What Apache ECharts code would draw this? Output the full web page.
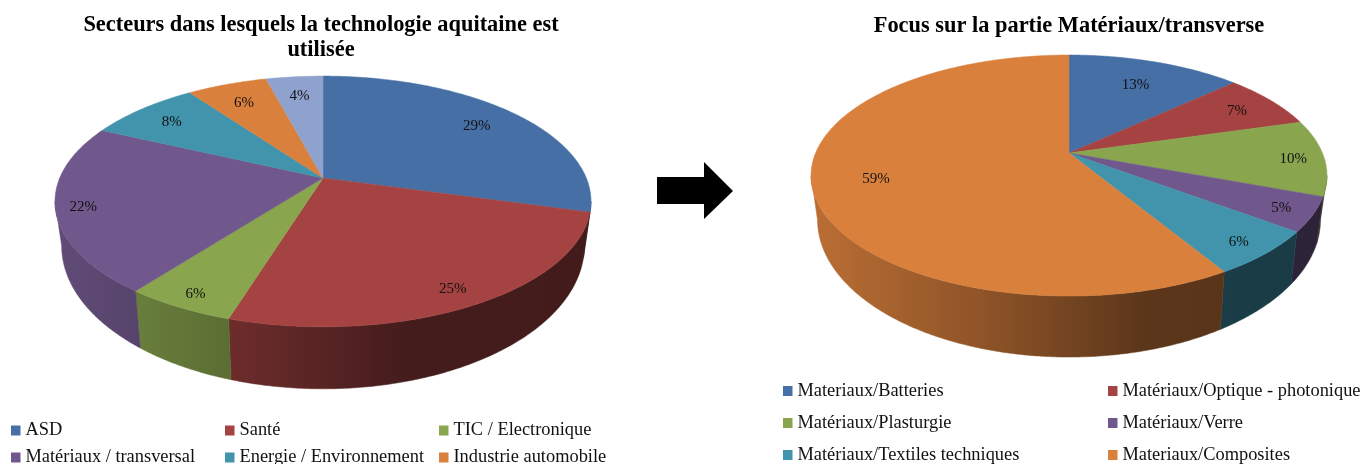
<!DOCTYPE html>
<html><head><meta charset="utf-8">
<script src="https://cdn.jsdelivr.net/npm/echarts@6/dist/echarts.min.js"></script>
<style>html,body{margin:0;background:#fff}#c{width:1363px;height:464px}</style></head>
<body><div id="c"></div>
<script>
const leftCategories = ['ASD','Santé','TIC / Electronique','Matériaux / transversal','Energie / Environnement','Industrie automobile','Autres'];
const leftValues = [29.3,25.4,5.6,21.6,8.1,5.8,4.1];
const leftColors = ['#4670a5','#a54342','#89a54e','#71588c','#4194ac','#d9803d','#8fa2cd'];
const leftLabelRadius = [0.8,0.88,0.9,0.9,0.82,0.8,0.8];

const rightCategories = ['Materiaux/Batteries','Matériaux/Optique - photonique','Matériaux/Plasturgie','Matériaux/Verre','Matériaux/Textiles techniques','Materiaux/Composites'];
const rightValues = [13.1,7.4,10.2,4.6,6.1,58.6];
const rightColors = ['#4670a5','#a54342','#89a54e','#71588c','#4194ac','#d9803d'];
const rightLabelRadius = [0.74,0.82,0.88,0.88,0.88,0.76];

const titleLeft = 'Secteurs dans lesquels la technologie aquitaine est\nutilisée';
const titleRight = 'Focus sur la partie Matériaux/transverse';

const FONT = '"Liberation Serif","Times New Roman",serif';
const K = 0.187, SIL = Math.asin(K);           // perspective strength, silhouette angle
const GROW = 0.14;                             // wall depth shrinks towards the back
const leftPie  = {cx:323,  cy:178, A:263.3, B:121,   rx:268, depth:62, s:0.975};
const rightPie = {cx:1069, cy:153, A:253.4, B:116.3, rx:258, depth:61, s:0.975};

function project(p, ang, r){
  const u = Math.sin(ang)*r, v = Math.cos(ang)*r, d = 1 + K*v;
  return [p.cx + p.A*u/d, p.cy - p.B*v/d];
}
function shade(hex, f){
  const n = parseInt(hex.slice(1),16);
  const c = [n>>16&255, n>>8&255, n&255].map(x=>Math.round(x*f));
  return 'rgb('+c.join(',')+')';
}
function wallGradient(p, color){
  return {type:'linear', global:true, x:p.cx-p.rx, y:0, x2:p.cx+p.rx, y2:0,
    colorStops:[[0,0.86],[0.33,0.66],[0.65,0.42],[1,0.40]].map(a=>({offset:a[0],color:shade(color,a[1])}))};
}
function arc(p, a0, a1){
  const n = Math.max(2, Math.ceil((a1-a0)/0.01)), pts=[];
  for(let i=0;i<=n;i++) pts.push(project(p, a0+(a1-a0)*i/n, 1));
  return pts;
}
function makeSeries(p, cats, vals, colors, radii){
  const total = vals.reduce((a,b)=>a+b,0);
  const front = project(p, Math.PI, 1)[1];
  let cum = 0;
  return vals.map((val,i)=>{
    const a0 = cum/total*2*Math.PI; cum += val; const a1 = cum/total*2*Math.PI;
    return {
      type:'custom', name:cats[i], coordinateSystem:'none', silent:true,
      itemStyle:{color:colors[i]}, data:[[val]],
      renderItem:function(params, api){
        const kids = [];
        const w0 = Math.max(a0, Math.PI/2+SIL), w1 = Math.min(a1, 3*Math.PI/2-SIL);
        if(w1>w0){
          const top = arc(p,w0,w1);
          const bot = top.map(q=>[p.cx+p.s*(q[0]-p.cx), q[1]+p.depth-GROW*(front-q[1])]).reverse();
          const g = wallGradient(p,colors[i]);
          kids.push({type:'polygon', z2:1, shape:{points:top.concat(bot)}, style:{fill:g, stroke:g, lineWidth:0.5}});
        }
        const face = [[p.cx,p.cy]].concat(arc(p,a0,a1));
        kids.push({type:'polygon', z2:5, shape:{points:face}, style:{fill:colors[i], stroke:colors[i], lineWidth:0.5}});
        const lp = project(p,(a0+a1)/2,radii[i]);
        kids.push({type:'text', z2:10, x:lp[0], y:lp[1]+2, style:{text:Math.round(api.value(0))+'%', font:'15px '+FONT, fill:'#111', align:'center', verticalAlign:'middle'}});
        return {type:'group', children:kids};
      }
    };
  });
}
const chart = echarts.init(document.getElementById('c'),null,{renderer:'canvas'});
const titleStyle = {fontFamily:FONT,fontWeight:'bold',fontSize:22.4,color:'#000',lineHeight:25};
chart.setOption({
  animation:false,
  title:[
    {text:titleLeft,left:321,top:13,textAlign:'center',padding:0,textStyle:titleStyle},
    {text:titleRight,left:1069,top:14,textAlign:'center',padding:0,textStyle:titleStyle}
  ],
  legend:[
    {data:leftCategories.slice(0,6),left:11,top:417,width:650,padding:0,itemGap:0,itemWidth:9.5,itemHeight:10,icon:'rect',selectedMode:false,
     textStyle:{fontFamily:FONT,fontSize:18.4,color:'#111',width:199.5,height:27,lineHeight:27,overflow:'none'}},
    {data:rightCategories,left:783,top:375,width:650,padding:0,itemGap:0,itemWidth:9.5,itemHeight:10,icon:'rect',selectedMode:false,
     textStyle:{fontFamily:FONT,fontSize:18.4,color:'#111',width:310.5,height:32,lineHeight:32,overflow:'none'}}
  ],
  graphic:[{type:'polygon',silent:true,shape:{points:[[657,177],[704,177],[704,162],[733,191],[704,219],[704,204],[657,204]]},style:{fill:'#000'}}],
  series:makeSeries(leftPie,leftCategories,leftValues,leftColors,leftLabelRadius)
    .concat(makeSeries(rightPie,rightCategories,rightValues,rightColors,rightLabelRadius))
});
</script></body></html>
